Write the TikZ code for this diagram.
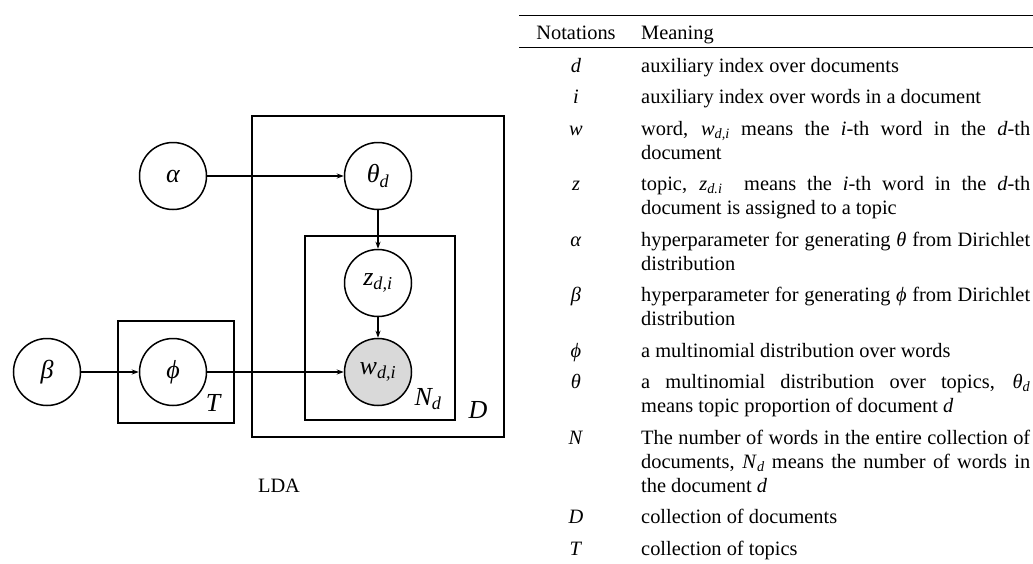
\documentclass[tikz,border=0pt]{standalone}
\usepackage{fontspec}
\setmainfont{Liberation Serif}
\usetikzlibrary{arrows.meta}
\newcommand{\tabfont}{\fontsize{20.4}{24}\selectfont}
\newcommand{\diafont}{\fontsize{26}{30}\selectfont}
\newcommand{\sbs}[1]{\textsubscript{\textit{#1}}}
\tolerance=9999
\hbadness=10000
\begin{document}
\begin{tikzpicture}[x=1pt,y=-1pt,
  var/.style={circle, draw, line width=1.5pt, minimum size=67pt, inner sep=0pt, font=\diafont\itshape},
  plate/.style={draw, line width=1.6pt, inner sep=0pt, outer sep=0pt, anchor=north west},
  platelabel/.style={font=\diafont\itshape, inner sep=0pt},
  edge/.style={line width=1.3pt, -{Stealth[length=7pt,width=5pt]}},
  tab/.style={font=\tabfont, inner sep=0pt, anchor=base},
  meaning/.style={font=\tabfont, inner sep=0pt, anchor=base west, text width=389pt, align=justify}]
\useasboundingbox (0,0) rectangle (1033,563);

% plates
\node[plate, minimum width=252pt, minimum height=321pt] (Dplate) at (252,116) {};
\node[plate, minimum width=150pt, minimum height=184pt] (Nplate) at (305,236) {};
\node[plate, minimum width=116pt, minimum height=102pt] (Tplate) at (118,321) {};

% variables
\node[var] (alpha) at (173,176) {α};
\node[var] (theta) at (378,176) {θ\sbs{d}};
\node[var] (z) at (378,283) {z\sbs{d,i}};
\node[var, fill=gray!30] (w) at (378,372) {w\sbs{d,i}};
\node[var] (beta) at (47,372) {β};
\node[var] (phi) at (173,372) {ϕ};

% plate labels
\node[platelabel] (Tl) at (213,403) {T};
\node[platelabel] (Nl) at (428,399) {N\sbs{d}};
\node[platelabel] (Dl) at (478,410) {D};

% edges
\draw[edge] (alpha) -- (theta);
\draw[edge] (theta) -- (z);
\draw[edge] (z) -- (w);
\draw[edge] (beta) -- (phi);
\draw[edge] (phi) -- (w);

\node[font=\tabfont, inner sep=0pt] (lda) at (279,486) {LDA};

% table
\draw[line width=1.6pt] (519,15.3) -- (1033,15.3);
\draw[line width=0.9pt] (519,47.3) -- (1033,47.3);
\node[tab] (hn) at (576,39) {Notations};
\node[tab, anchor=base west] (hm) at (641,39) {Meaning};

\node[tab] (nd) at (576,72) {\textit{d}};
\node[meaning] (md) at (641,72) {auxiliary index over documents};

\node[tab] (ni) at (576,103.5) {\textit{i}};
\node[meaning] (mi) at (641,103.5) {auxiliary index over words in a document};

\node[tab] (nw) at (576,135) {\textit{w}};
\node[meaning] (mw) at (641,135) {word, \textit{w}\sbs{d,i} means the \textit{i}-th word in the \textit{d}-th\linebreak document};

\node[tab] (nz) at (576,190.5) {\textit{z}};
\node[meaning] (mz) at (641,190.5) {topic, \textit{z}\sbs{d.i}\ \ means the \textit{i}-th word in the \textit{d}-th\linebreak document is assigned to a topic};

\node[tab] (na) at (576,246) {\textit{α}};
\node[meaning] (ma) at (641,246) {hyperparameter for generating \textit{θ} from Dirichlet\linebreak distribution};

\node[tab] (nb) at (576,301.5) {\textit{β}};
\node[meaning] (mb) at (641,301.5) {hyperparameter for generating \textit{ϕ} from Dirichlet\linebreak distribution};

\node[tab] (np) at (576,357) {\textit{ϕ}};
\node[meaning] (mp) at (641,357) {a multinomial distribution over words};

\node[tab] (nt) at (576,388.5) {\textit{θ}};
\node[meaning] (mt) at (641,388.5) {a multinomial distribution over topics, \textit{θ}\sbs{d}\linebreak means topic proportion of document \textit{d}};

\node[tab] (nn) at (576,444) {\textit{N}};
\node[meaning] (mn) at (641,444) {The number of words in the entire collection of\linebreak documents, \textit{N}\sbs{d} means the number of words in\linebreak the document \textit{d}};

\node[tab] (nD) at (576,523.5) {\textit{D}};
\node[meaning] (mD) at (641,523.5) {collection of documents};

\node[tab] (nT) at (576,555) {\textit{T}};
\node[meaning] (mT) at (641,555) {collection of topics};
\end{tikzpicture}
\end{document}
